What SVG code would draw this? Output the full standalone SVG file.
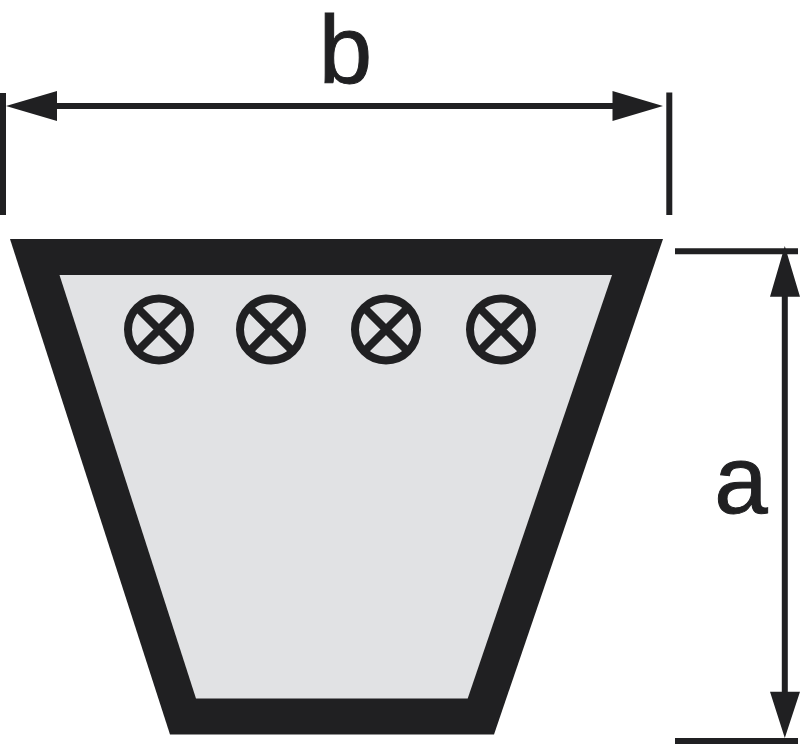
<svg xmlns="http://www.w3.org/2000/svg" width="800" height="744" viewBox="0 0 800 744">
<style>
.ink{fill:#202022}
.dim{stroke:#202022;stroke-width:6;fill:none}
.bolt{fill:none;stroke:#202022;stroke-width:8}
.lbl{font-family:"Liberation Sans",Arial,sans-serif;font-size:96px;fill:#202022;stroke:#202022;stroke-width:1}
</style>
<defs>
<g id="cord"><circle r="31"/><path d="M-22.500-22.500L22.500 22.500M-22.500 22.500L22.500-22.500"/></g>
</defs>
<rect width="800" height="744" fill="#fff"/>
<g id="belt">
<path class="ink" d="M10 239H663L494 734.500H170Z"/>
<path fill="#e1e2e4" d="M59.500 275H612L467.700 698.500H196Z"/>
</g>
<g id="cords" class="bolt">
<use id="cord1" href="#cord" x="159" y="329.500"/>
<use id="cord2" href="#cord" x="271" y="329.500"/>
<use id="cord3" href="#cord" x="386" y="329.500"/>
<use id="cord4" href="#cord" x="501" y="329.500"/>
</g>
<g id="connectors">
<path class="dim" d="M3 93V215M669.300 92.500V215M50 106H620M675 251.300H798M675 741H798M784.800 290V698"/>
<path class="ink" d="M6 106L57 91V121ZM663 106L612.500 91V121ZM784.800 246L770 296.700H800ZM784.800 738L770 691.700H800Z"/>
</g>
<text id="label-b" class="lbl" x="345.500" y="83" text-anchor="middle">b</text>
<text id="label-a" class="lbl" x="741" y="513" text-anchor="middle">a</text>
</svg>
